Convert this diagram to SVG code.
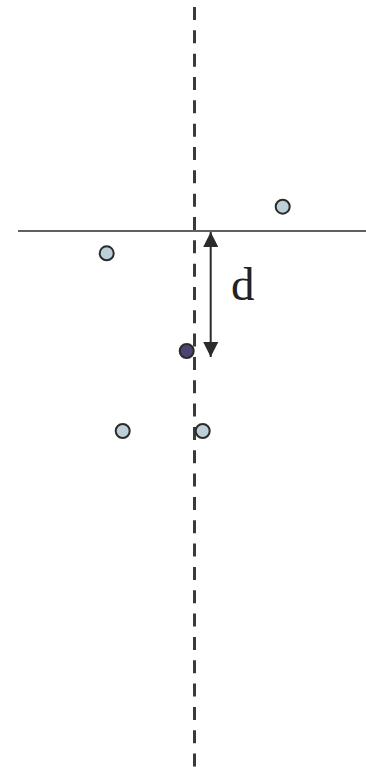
<svg xmlns="http://www.w3.org/2000/svg" width="366" height="767" viewBox="0 0 366 767">
<style>
.pt{fill:#bcd0d8;stroke:#2b2b2b;stroke-width:2}
.dk{fill:#4a4572;stroke:#2b2b2b;stroke-width:2}
</style>
<defs>
<marker id="ah" viewBox="0 0 10 10" refX="10" refY="5" markerWidth="7.5" markerHeight="7.5" markerUnits="strokeWidth" orient="auto-start-reverse"><path d="M0,0 L10,5 L0,10 z" fill="#2b2b2b"/></marker>
</defs>
<rect width="366" height="767" fill="#fff"/>
<g id="connectors">
<line x1="194.5" y1="7" x2="194.5" y2="767" stroke="#3a3a3a" stroke-width="3" stroke-dasharray="13 10.33"/>
<line x1="18" y1="231" x2="366" y2="231" stroke="#2b2b2b" stroke-width="1.5"/>
<line x1="210.7" y1="232" x2="210.7" y2="357" stroke="#2b2b2b" stroke-width="2" marker-start="url(#ah)" marker-end="url(#ah)"/>
</g>
<g id="p1"><circle class="pt" cx="282.7" cy="206.7" r="7"/></g>
<g id="p2"><circle class="pt" cx="106.7" cy="253.3" r="7"/></g>
<g id="p3"><circle class="dk" cx="186.7" cy="351" r="7"/></g>
<g id="p4"><circle class="pt" cx="122.7" cy="431" r="7"/></g>
<g id="p5"><circle class="pt" cx="202.7" cy="431" r="7"/></g>
<g id="label"><text x="231" y="300" font-family="'Liberation Serif', serif" font-size="47" fill="#222">d</text></g>
</svg>
